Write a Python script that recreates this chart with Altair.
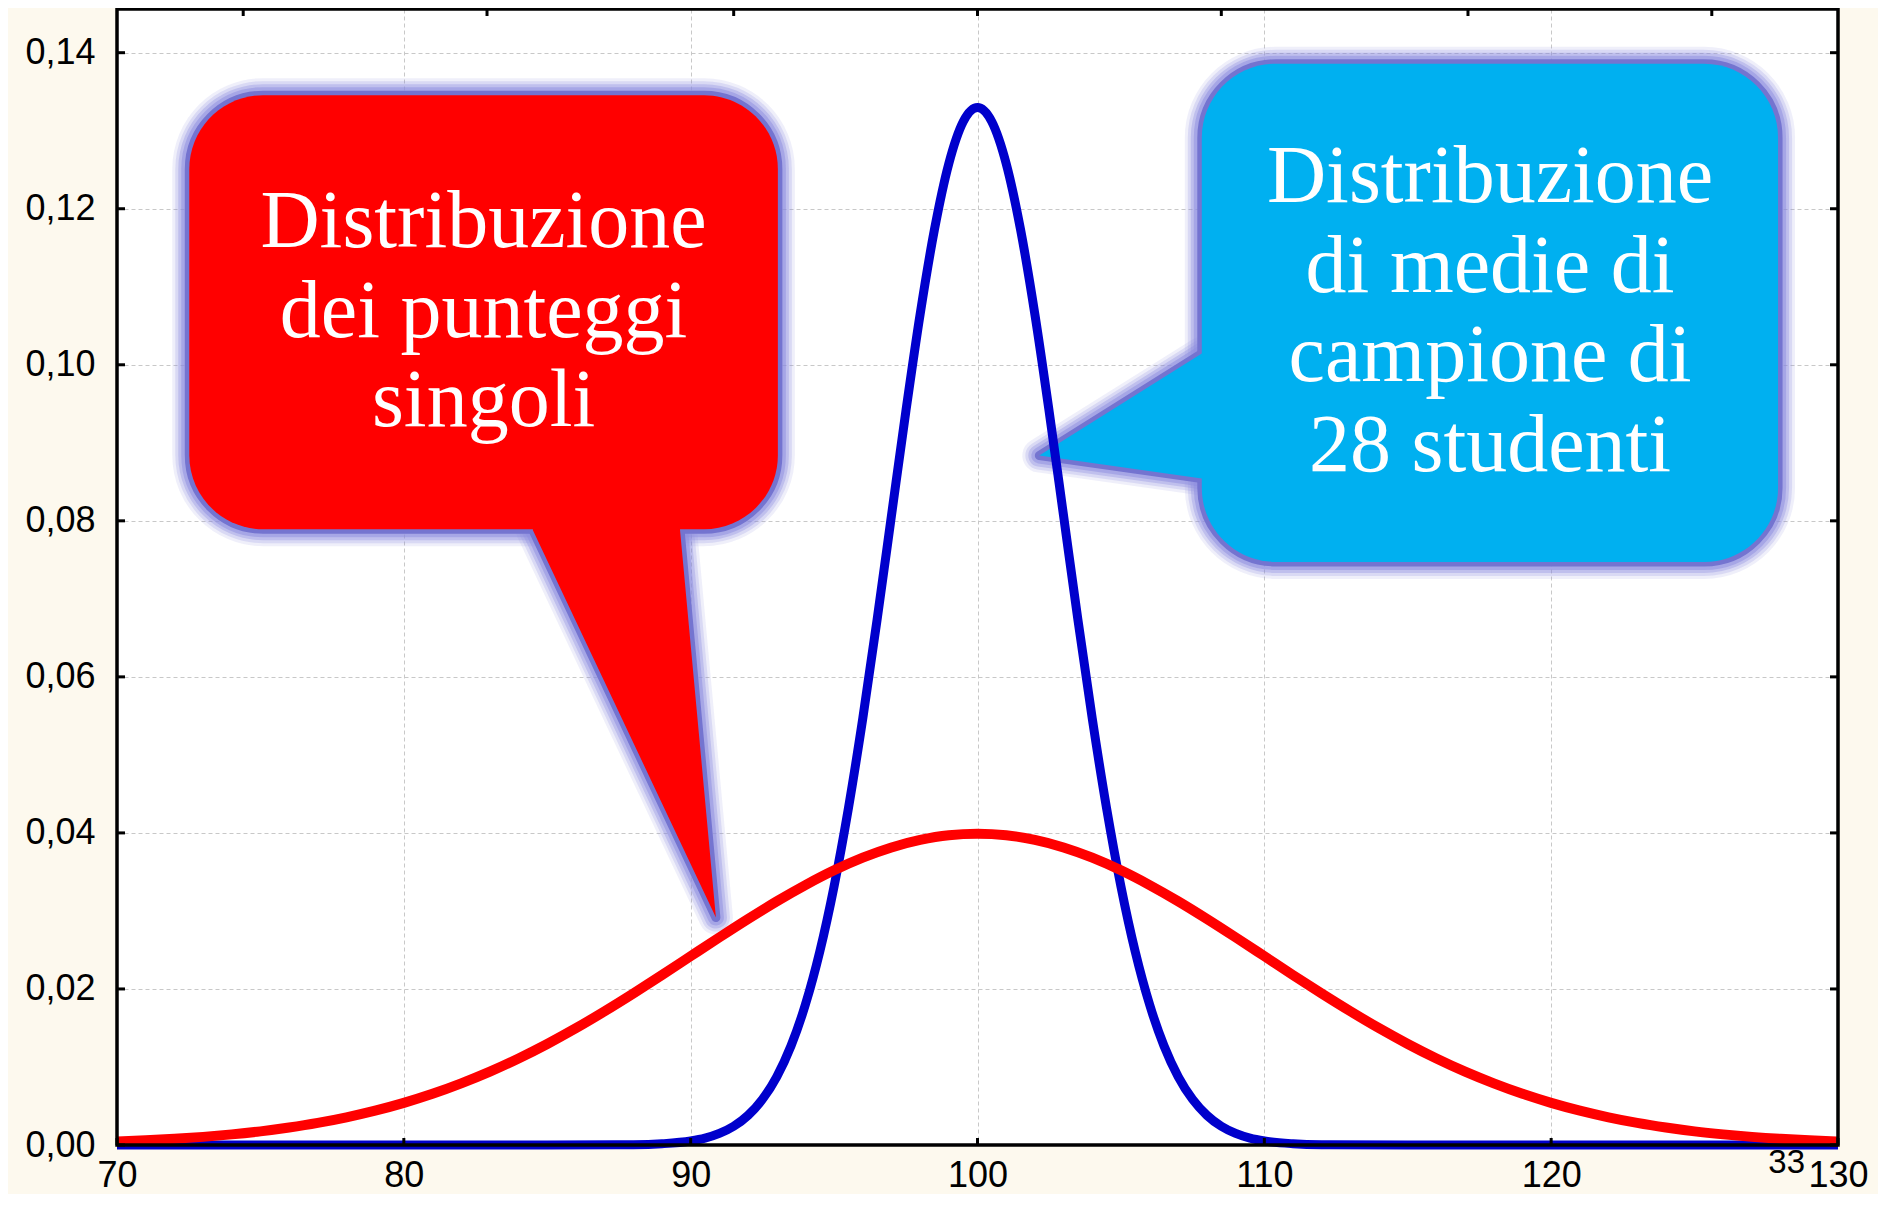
import altair as alt
import pandas as pd

# ---------------- data ----------------
red_x = [70, 71, 72, 73, 74, 75, 76, 77, 78, 79, 80, 81, 82, 83, 84, 85, 86, 87, 88, 89,
         90, 91, 92, 93, 94, 95, 96, 97, 98, 99, 100, 101, 102, 103, 104, 105, 106, 107,
         108, 109, 110, 111, 112, 113, 114, 115, 116, 117, 118, 119, 120, 121, 122, 123,
         124, 125, 126, 127, 128, 129, 130]
red_y = [0.00044, 0.00060, 0.00079, 0.00104, 0.00136, 0.00175, 0.00224, 0.00283, 0.00355,
         0.00440, 0.00540, 0.00656, 0.00790, 0.00940, 0.01109, 0.01295, 0.01497, 0.01714,
         0.01942, 0.02178, 0.02420, 0.02661, 0.02897, 0.03123, 0.03332, 0.03521, 0.03683,
         0.03814, 0.03910, 0.03970, 0.03989, 0.03970, 0.03910, 0.03814, 0.03683, 0.03521,
         0.03332, 0.03123, 0.02897, 0.02661, 0.02420, 0.02178, 0.01942, 0.01714, 0.01497,
         0.01295, 0.01109, 0.00940, 0.00790, 0.00656, 0.00540, 0.00440, 0.00355, 0.00283,
         0.00224, 0.00175, 0.00136, 0.00104, 0.00079, 0.00060, 0.00044]

blue_x = [70, 85, 88, 89, 90, 90.5, 91, 91.5, 92, 92.5, 93, 93.5, 94, 94.5, 95, 95.5, 96,
          96.5, 97, 97.5, 98, 98.5, 99, 99.5, 100, 100.5, 101, 101.5, 102, 102.5, 103,
          103.5, 104, 104.5, 105, 105.5, 106, 106.5, 107, 107.5, 108, 108.5, 109, 109.5,
          110, 111, 112, 115, 130]
blue_y = [0.0, 0.0, 0.00004, 0.00016, 0.00051, 0.00088, 0.00148, 0.00240, 0.00380, 0.00584,
          0.00874, 0.01272, 0.01800, 0.02477, 0.03316, 0.04317, 0.05467, 0.06733, 0.08066,
          0.09397, 0.10648, 0.11735, 0.12579, 0.13115, 0.13298, 0.13115, 0.12579, 0.11735,
          0.10648, 0.09397, 0.08066, 0.06733, 0.05467, 0.04317, 0.03316, 0.02477, 0.01800,
          0.01272, 0.00874, 0.00584, 0.00380, 0.00240, 0.00148, 0.00088, 0.00051, 0.00016,
          0.00004, 0.0, 0.0]

x_ticks = [70, 80, 90, 100, 110, 120, 130]
y_ticks = [0.0, 0.02, 0.04, 0.06, 0.08, 0.10, 0.12, 0.14]
top_ticks = [74.4, 82.9, 91.5, 100.0, 108.5, 117.1, 125.6]

# callout boxes (data units)
red_box_x = [72.52, 93.04]
red_box_y = [0.07892, 0.13456]
red_ptr_y = [0.0800, 0.0788, 0.02915]
red_ptr_x = [84.50, 84.50, 90.88]
red_ptr_x2 = [89.63, 89.63, 90.88]
red_text = "Distribuzione\ndei punteggi\nsingoli"
red_text_pos = [82.78, 0.11505]

blue_box_x = [107.82, 127.91]
blue_box_y = [0.07473, 0.13858]
blue_ptr_x = [102.155, 107.82, 108.4]
blue_ptr_y = [0.08837, 0.10144, 0.10144]
blue_ptr_y2 = [0.08837, 0.08543, 0.08543]
blue_text = "Distribuzione\ndi medie di\ncampione di\n28 studenti"
blue_text_pos = [117.87, 0.12085]

slide_number = "33"

# ---------------- layout ----------------
W, H = 1721, 1136
xs = alt.Scale(domain=[70, 130], nice=False, zero=False)
ys = alt.Scale(domain=[0, 0.1456], nice=False, zero=False)

x_axis = alt.Axis(values=x_ticks, grid=True, gridColor="#C8C8C8", gridDash=[4, 3], gridWidth=1,
                  ticks=False, tickSize=0, domain=False, labelFont="Liberation Sans",
                  labelFontSize=36, labelColor="black", labelPadding=41,
                  labelBaseline="alphabetic", labelFlush=False,
                  labelOverlap=False, title=None)
y_axis = alt.Axis(values=y_ticks, grid=True, gridColor="#C8C8C8", gridDash=[4, 3], gridWidth=1,
                  ticks=False, tickSize=0, domain=False, labelFont="Liberation Sans",
                  labelFontSize=36, labelColor="black", labelPadding=22, labelOverlap=False,
                  labelExpr="replace(format(datum.value, '.2f'), '.', ',')", title=None)

red_df = pd.DataFrame({"x": red_x, "y": red_y})
blue_df = pd.DataFrame({"x": blue_x, "y": blue_y})

red_box_df = pd.DataFrame({"x": [red_box_x[0]], "x2": [red_box_x[1]],
                           "y": [red_box_y[0]], "y2": [red_box_y[1]]})
blue_box_df = pd.DataFrame({"x": [blue_box_x[0]], "x2": [blue_box_x[1]],
                            "y": [blue_box_y[0]], "y2": [blue_box_y[1]]})
red_ptr_df = pd.DataFrame({"y": red_ptr_y, "x": red_ptr_x, "x2": red_ptr_x2})
blue_ptr_df = pd.DataFrame({"x": blue_ptr_x, "y": blue_ptr_y, "y2": blue_ptr_y2})


def X(f="x"):
    return alt.X(f + ":Q", scale=xs, axis=x_axis)


def Y(f="y"):
    return alt.Y(f + ":Q", scale=ys, axis=y_axis)


def box(df, **mk):
    return alt.Chart(df).mark_rect(cornerRadius=74, **mk).encode(
        x=X(), x2="x2", y=Y(), y2="y2")


def ptr_h(df, **mk):
    return alt.Chart(df).mark_area(orient="horizontal", interpolate="linear", **mk).encode(
        y=Y(), x=X(), x2="x2")


def ptr_v(df, **mk):
    return alt.Chart(df).mark_area(orient="vertical", interpolate="linear", **mk).encode(
        x=X(), y=Y(), y2="y2")


glow_specs = [(34, 0.14), (28, 0.22), (22, 0.34), (16, 0.5)]
layers = []
for sw, op in glow_specs:
    for df in (red_box_df, blue_box_df):
        layers.append(box(df, fillOpacity=0, stroke="#8E8EDF", strokeWidth=sw,
                          strokeOpacity=op, strokeJoin="round"))
    layers.append(ptr_h(red_ptr_df, fillOpacity=0, stroke="#8E8EDF", strokeWidth=sw,
                        strokeOpacity=op, strokeJoin="round"))
    layers.append(ptr_v(blue_ptr_df, fillOpacity=0, stroke="#8E8EDF", strokeWidth=sw,
                        strokeOpacity=op, strokeJoin="round"))

# main outline
layers += [
    box(red_box_df, fillOpacity=0, stroke="#7474D0", strokeWidth=9),
    box(blue_box_df, fillOpacity=0, stroke="#7474D0", strokeWidth=9),
    ptr_h(red_ptr_df, fillOpacity=0, stroke="#7474D0", strokeWidth=9, strokeJoin="round"),
    ptr_v(blue_ptr_df, fillOpacity=0, stroke="#7474D0", strokeWidth=9, strokeJoin="round"),
]
# fills
layers += [
    box(red_box_df, fill="#FF0000", strokeWidth=0),
    ptr_h(red_ptr_df, fill="#FF0000", fillOpacity=1, strokeWidth=0),
    box(blue_box_df, fill="#00B0F0", strokeWidth=0),
    ptr_v(blue_ptr_df, fill="#00B0F0", fillOpacity=1, strokeWidth=0),
]

# texts
txt_df = pd.DataFrame({"x": [red_text_pos[0], blue_text_pos[0]],
                       "y": [red_text_pos[1], blue_text_pos[1]],
                       "t": [red_text, blue_text]})
layers.append(alt.Chart(txt_df).mark_text(
    font="Liberation Serif", fontSize=82, color="white", align="center",
    baseline="alphabetic", lineBreak="\n", lineHeight=89.5).encode(
    x=X(), y=Y(), text="t:N"))

# curves
blue_line = alt.Chart(blue_df).mark_line(color="#0000CC", strokeWidth=9,
                                         interpolate="monotone").encode(x=X(), y=Y())
red_line = alt.Chart(red_df).mark_line(color="#FF0000", strokeWidth=10,
                                       interpolate="monotone").encode(x=X(), y=Y())
layers += [blue_line, red_line]

# frame
frame_df = pd.DataFrame({"k": [0]})
layers.append(alt.Chart(frame_df).mark_rect(fillOpacity=0, stroke="black", strokeWidth=3.5).encode(
    x=alt.value(0), x2=alt.value(W), y=alt.value(0), y2=alt.value(H)))

# inward ticks
yt_df = pd.DataFrame({"y": y_ticks})
xt_df = pd.DataFrame({"x": x_ticks})
tt_df = pd.DataFrame({"x": top_ticks})
tick = dict(color="black", strokeWidth=3)
layers += [
    alt.Chart(yt_df).mark_rule(**tick).encode(y=Y(), x=alt.value(0), x2=alt.value(8)),
    alt.Chart(yt_df).mark_rule(**tick).encode(y=Y(), x=alt.value(W - 8), x2=alt.value(W)),
    alt.Chart(xt_df).mark_rule(**tick).encode(x=X(), y=alt.value(H - 7), y2=alt.value(H)),
    alt.Chart(tt_df).mark_rule(**tick).encode(x=X(), y=alt.value(0), y2=alt.value(7)),
]

# slide number
num_df = pd.DataFrame({"t": [slide_number]})
layers.append(alt.Chart(num_df).mark_text(
    font="Liberation Sans", fontSize=33, color="black", align="right",
    baseline="alphabetic").encode(x=alt.value(1688), y=alt.value(1164), text="t:N"))

chart = alt.layer(*layers).properties(
    width=W, height=H,
    autosize=alt.AutoSizeParams(type="none"),
    padding={"left": 109, "top": 1, "right": 40, "bottom": 49},
    background="#FDF9EE",
).configure_view(fill="white", strokeWidth=0)

chart.save("out.html", embed_options={"renderer": "svg", "actions": False})
